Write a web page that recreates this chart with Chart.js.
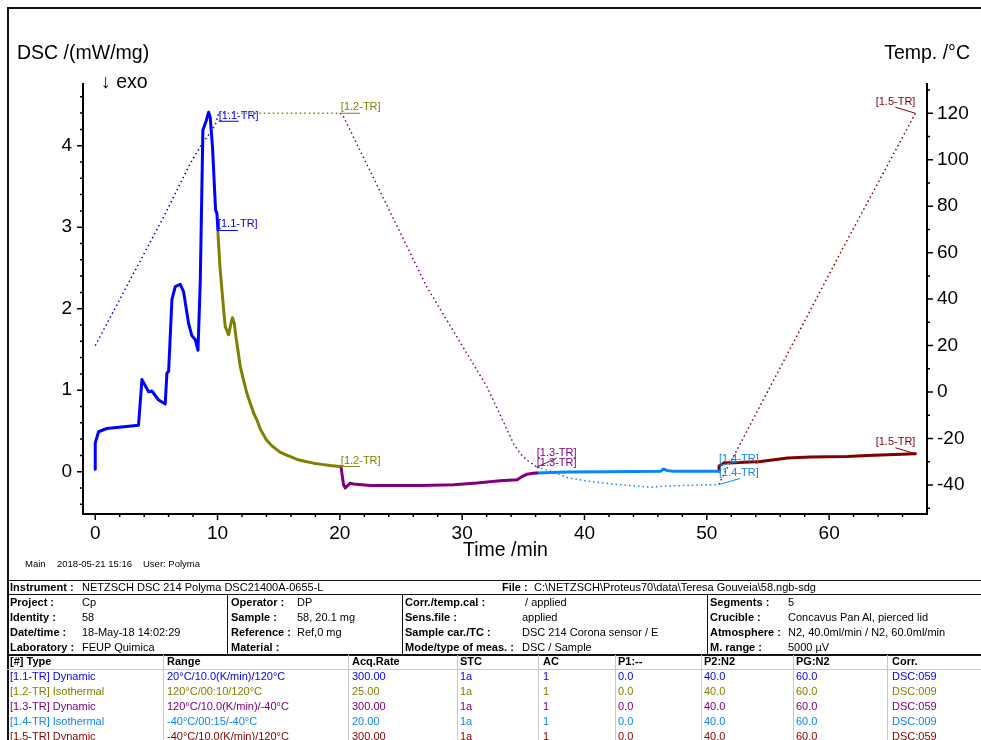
<!DOCTYPE html>
<html><head><meta charset="utf-8">
<script src="https://cdn.jsdelivr.net/npm/chart.js@4/dist/chart.umd.min.js"></script>
<style>
html,body{margin:0;padding:0;background:#fff;}
#page{position:relative;width:981px;height:740px;overflow:hidden;font-family:"Liberation Sans",Arial,sans-serif;color:#000;}
.t{position:absolute;white-space:pre;line-height:1;}
.ln{position:absolute;}
canvas{position:absolute;left:0;top:0;}
</style></head><body>
<div id="page">
<canvas id="c" width="981" height="575"></canvas>
</div>
<script>
// ---------- DATA ----------
const segNames = ["[1.1-TR]", "[1.2-TR]", "[1.3-TR]", "[1.4-TR]", "[1.5-TR]"];
const segColors = ["#0000ff", "#808000", "#800080", "#0a84ff", "#800000"];

// DSC signal /(mW/mg) vs time /min, one pair per segment
const seg1Time = [0, 0, 0.27, 0.95, 3.54, 3.82, 4.36, 4.63, 5.18, 5.72, 5.86, 6.0, 6.27, 6.54, 6.95, 7.22, 7.63, 7.9, 8.18, 8.4, 8.59, 8.8, 9.08, 9.27, 9.4, 9.59, 9.76, 9.84, 9.95, 10.03];
const seg1Dsc  = [0.03, 0.35, 0.49, 0.53, 0.57, 1.13, 0.98, 0.99, 0.88, 0.83, 1.21, 1.23, 2.11, 2.27, 2.30, 2.21, 1.82, 1.67, 1.62, 1.49, 2.35, 4.19, 4.31, 4.41, 4.35, 3.98, 3.45, 3.21, 3.17, 2.96];
const seg2Time = [10.03, 10.2, 10.5, 10.63, 10.9, 11.1, 11.22, 11.37, 11.5, 11.86, 12.13, 12.4, 12.95, 13.2, 13.5, 14.0, 14.5, 15.1, 15.7, 16.5, 17.2, 17.85, 18.5, 19.2, 20.0];
const seg2Dsc  = [2.93, 2.51, 1.98, 1.78, 1.68, 1.82, 1.89, 1.82, 1.66, 1.29, 1.12, 0.96, 0.72, 0.64, 0.52, 0.39, 0.31, 0.24, 0.20, 0.15, 0.125, 0.105, 0.09, 0.077, 0.065];
const seg3Time = [20.0, 20.1, 20.3, 20.44, 20.85, 21.1, 22.5, 23.85, 26.6, 29.3, 31.2, 33.1, 34.5, 34.9, 35.3, 35.8, 36.1];
const seg3Dsc  = [0.065, 0.05, -0.16, -0.20, -0.14, -0.15, -0.17, -0.17, -0.17, -0.16, -0.14, -0.11, -0.10, -0.06, -0.03, -0.02, -0.015];
const seg4Time = [36.1, 38.6, 42.0, 46.2, 46.47, 46.74, 47.3, 51.0];
const seg4Dsc  = [-0.015, -0.004, 0.0, 0.004, 0.033, 0.016, 0.004, 0.004];
const seg5Time = [51.0, 51.0, 51.4, 52.2, 54.4, 56.6, 58.5, 61.5, 63.1, 67.05];
const seg5Dsc  = [0.004, 0.07, 0.106, 0.11, 0.126, 0.168, 0.18, 0.188, 0.20, 0.22];

// Temperature /°C vs time /min, one pair per segment
const temp1Time = [0, 5.6, 7.77, 8.59, 9.5, 9.81, 10.1];
const temp1Val  = [20, 75.5, 98.4, 105.6, 112.5, 115, 120];
const temp2Time = [10.1, 20.0];
const temp2Val  = [120, 120];
const temp3Time = [20.0, 20.3, 27.1, 32.03, 34.2, 34.75, 35.3, 35.85, 36.1];
const temp3Val  = [120, 118.5, 45.3, 2.2, -22.2, -26.5, -29.4, -31.2, -32.3];
const temp4Time = [36.1, 37.5, 38.6, 40.2, 42.9, 45.4, 46.5, 51.0];
const temp4Val  = [-32.3, -34.5, -36.8, -38.3, -39.9, -41.0, -40.5, -39.8];
const temp5Time = [51.0, 51.2, 52.3, 60.9, 67.05];
const temp5Val  = [-39.8, -37.3, -26.6, 59.7, 120];

// Axis ticks
const xTickLabels = [0, 10, 20, 30, 40, 50, 60];
const xMinorTicks = [0,2,4,6,8,10,12,14,16,18,20,22,24,26,28,30,32,34,36,38,40,42,44,46,48,50,52,54,56,58,60,62,64,66];
const yLeftTickLabels = [0, 1, 2, 3, 4];
const yLeftMinorTicks = [-0.4,-0.2,0,0.2,0.4,0.6,0.8,1,1.2,1.4,1.6,1.8,2,2.2,2.4,2.6,2.8,3,3.2,3.4,3.6,3.8,4,4.2,4.4,4.6];
const yRightTickLabels = [-40, -20, 0, 20, 40, 60, 80, 100, 120];
const yRightMinorTicks = [-50,-40,-30,-20,-10,0,10,20,30,40,50,60,70,80,90,100,110,120,130];

// Table contents
const instrumentText = "NETZSCH DSC 214 Polyma DSC21400A-0655-L";
const fileText = "C:\\NETZSCH\\Proteus70\\data\\Teresa Gouveia\\58.ngb-sdg";
const infoRows = [
  ["Project :", "Cp", "Operator :", "DP", "Corr./temp.cal :", " / applied", "Segments :", "5"],
  ["Identity :", "58", "Sample :", "58, 20.1 mg", "Sens.file :", "applied", "Crucible :", "Concavus Pan Al, pierced lid"],
  ["Date/time :", "18-May-18 14:02:29", "Reference :", "Ref,0 mg", "Sample car./TC :", "DSC 214 Corona sensor / E", "Atmosphere :", "N2, 40.0ml/min / N2, 60.0ml/min"],
  ["Laboratory :", "FEUP Quimica", "Material :", "", "Mode/type of meas. :", "DSC / Sample", "M. range :", "5000 µV"]
];
const segHeader = ["[#] Type", "Range", "Acq.Rate", "STC", "AC", "P1:--", "P2:N2", "PG:N2", "Corr."];
const segRows = [
  ["[1.1-TR] Dynamic", "20°C/10.0(K/min)/120°C", "300.00", "1a", "1", "0.0", "40.0", "60.0", "DSC:059"],
  ["[1.2-TR] Isothermal", "120°C/00:10/120°C", "25.00", "1a", "1", "0.0", "40.0", "60.0", "DSC:009"],
  ["[1.3-TR] Dynamic", "120°C/10.0(K/min)/-40°C", "300.00", "1a", "1", "0.0", "40.0", "60.0", "DSC:059"],
  ["[1.4-TR] Isothermal", "-40°C/00:15/-40°C", "20.00", "1a", "1", "0.0", "40.0", "60.0", "DSC:009"],
  ["[1.5-TR] Dynamic", "-40°C/10.0(K/min)/120°C", "300.00", "1a", "1", "0.0", "40.0", "60.0", "DSC:059"]
];

// ---------- PAGE TEXT ----------
const page = document.getElementById('page');
const FONT = '"Liberation Sans", Arial, sans-serif';
function put(txt, x, base, size, o) {
  o = o || {};
  const d = document.createElement('div');
  d.className = 't'; d.textContent = txt;
  d.style.fontSize = size + 'px';
  d.style.top = (base - 0.8465 * size) + 'px';
  if (o.right != null) d.style.right = (981 - o.right) + 'px'; else d.style.left = x + 'px';
  if (o.bold) d.style.fontWeight = 'bold';
  if (o.color) d.style.color = o.color;
  page.appendChild(d);
}
function rect(x, y, w, h, c) {
  const d = document.createElement('div');
  d.className = 'ln';
  d.style.left = x + 'px'; d.style.top = y + 'px'; d.style.width = w + 'px'; d.style.height = h + 'px';
  d.style.background = c;
  page.appendChild(d);
}
// outer frame
rect(7, 7, 974, 1.5, '#111');
rect(7, 7, 1.5, 733, '#111');

put("DSC /(mW/mg)", 17, 60, 19.5);
put("↓ exo", 101, 89, 19.5);
put("Temp. /°C", 0, 60, 19.5, {right: 970});
put("Time /min", 463, 556.5, 19.5);
put("Main", 25, 567.5, 9.5);
put("2018-05-21 15:16", 57, 567.5, 9.5);
put("User: Polyma", 143, 567.5, 9.5);

// table lines
rect(7, 579.5, 974, 1.5, '#111');
rect(7, 593.5, 974, 1, '#111');
rect(7, 653.5, 974, 2, '#111');
rect(7, 669, 974, 1, '#c8c8c8');
[227, 402, 707].forEach(x => rect(x, 594, 1, 60, '#111'));
[163, 348, 457, 538, 615, 701, 793, 887].forEach(x => rect(x, 655, 1, 90, '#c8c8c8'));

put("Instrument :", 10, 591, 11, {bold: true});
put(instrumentText, 82, 591, 11);
put("File :", 502, 591, 11, {bold: true});
put(fileText, 534, 591, 11);
const infoLabelX = [10, 231, 405, 710];
const infoValueX = [82, 297, 522, 788];
const infoBase = [606, 621, 636, 651];
infoRows.forEach((r, i) => {
  for (let c = 0; c < 4; c++) {
    put(r[2 * c], infoLabelX[c], infoBase[i], 11, {bold: true});
    put(r[2 * c + 1], infoValueX[c], infoBase[i], 11);
  }
});
const segColX = [10, 167, 352, 460, 543, 618, 704, 796, 892];
segHeader.forEach((h, c) => put(h, segColX[c], 665.5, 11, {bold: true}));
const segBase = [680, 695, 710, 725, 740];
segRows.forEach((r, i) => r.forEach((v, c) => put(v, segColX[c], segBase[i], 11, {color: segColors[i]})));

// ---------- CHART ----------
const toXY = (xs, ys) => xs.map((x, i) => ({x: x, y: ys[i]}));
const dscSegs = [[seg1Time, seg1Dsc], [seg2Time, seg2Dsc], [seg3Time, seg3Dsc], [seg4Time, seg4Dsc], [seg5Time, seg5Dsc]];
const tempSegs = [[temp1Time, temp1Val], [temp2Time, temp2Val], [temp3Time, temp3Val], [temp4Time, temp4Val], [temp5Time, temp5Val]];

const datasets = [];
dscSegs.forEach((s, i) => datasets.push({
  label: segNames[i] + ' DSC', data: toXY(s[0], s[1]), yAxisID: 'y', showLine: true,
  borderColor: segColors[i], backgroundColor: segColors[i], borderWidth: 3, pointRadius: 0,
  tension: 0, borderJoinStyle: 'round', borderCapStyle: 'round', order: 1
}));
tempSegs.forEach((s, i) => datasets.push({
  label: segNames[i] + ' Temp', data: toXY(s[0], s[1]), yAxisID: 'y1', showLine: true,
  borderColor: segColors[i], backgroundColor: segColors[i], borderWidth: 1.5, borderDash: [1.5, 3],
  pointRadius: 0, tension: 0, order: 2
}));

// label annotations anchored on the ends of each segment
const annos = [
  {text: segNames[0], src: tempSegs[0], axis: 'y1', dx: 0, dy: 3, line: [0, 8, 20, 8], align: 'left', color: segColors[0]},
  {text: segNames[0], src: dscSegs[0], axis: 'y', dx: 0, dy: -6, line: [0, 0, 20, 0], align: 'left', color: segColors[0]},
  {text: segNames[1], src: tempSegs[1], axis: 'y1', dx: 1, dy: -6, line: [0, 0, 20, 0], align: 'left', color: segColors[1]},
  {text: segNames[1], src: dscSegs[1], axis: 'y', dx: 1, dy: -5, line: [0, 0, 20, 0], align: 'left', color: segColors[1]},
  {text: segNames[2], src: tempSegs[2], axis: 'y1', dx: 0, dy: -14, line: [0, 0, 20, -9], align: 'left', color: segColors[2]},
  {text: segNames[2], src: dscSegs[2], axis: 'y', dx: 0, dy: -10, line: null, align: 'left', color: segColors[2]},
  {text: segNames[3], src: dscSegs[3], axis: 'y', dx: 0, dy: -12, line: [0, -6, 21, -10], align: 'left', color: segColors[3]},
  {text: segNames[3], src: tempSegs[3], axis: 'y1', dx: 0, dy: -12, line: [0, 0, 21, -6], align: 'left', color: segColors[3]},
  {text: segNames[4], src: tempSegs[4], axis: 'y1', dx: 0, dy: -11, line: [0, 0, -20, -6], align: 'right', color: segColors[4]},
  {text: segNames[4], src: dscSegs[4], axis: 'y', dx: 0, dy: -12, line: [0, 0, -20, -6], align: 'right', color: segColors[4]}
];

const annoPlugin = {
  id: 'annoPlugin',
  afterDatasetsDraw(chart) {
    const ctx = chart.ctx;
    ctx.save();
    ctx.font = '11px ' + FONT;
    ctx.textBaseline = 'middle';
    annos.forEach(a => {
      const xs = a.src[0], ys = a.src[1];
      const ax = chart.scales.x.getPixelForValue(xs[xs.length - 1]);
      const ay = chart.scales[a.axis].getPixelForValue(ys[ys.length - 1]);
      ctx.fillStyle = a.color; ctx.strokeStyle = a.color; ctx.lineWidth = 1;
      ctx.textAlign = a.align;
      ctx.fillText(a.text, ax + a.dx, ay + a.dy);
      if (a.line) {
        ctx.beginPath();
        ctx.moveTo(ax + a.line[0], ay + a.line[1]);
        ctx.lineTo(ax + a.line[2], ay + a.line[3]);
        ctx.stroke();
      }
    });
    ctx.restore();
  }
};

const tickPlugin = {
  id: 'tickPlugin',
  afterDraw(chart) {
    const ctx = chart.ctx, a = chart.chartArea;
    const sx = chart.scales.x, sy = chart.scales.y, sr = chart.scales.y1;
    ctx.save();
    ctx.strokeStyle = '#000'; ctx.lineWidth = 1.5;
    ctx.beginPath();
    xMinorTicks.forEach(v => {
      const p = sx.getPixelForValue(v), L = xTickLabels.includes(v) ? 6 : 3;
      ctx.moveTo(p, a.bottom); ctx.lineTo(p, a.bottom + L);
    });
    yLeftMinorTicks.forEach(v => {
      const p = sy.getPixelForValue(v), L = yLeftTickLabels.some(t => Math.abs(t - v) < 1e-9) ? 6 : 3;
      ctx.moveTo(a.left, p); ctx.lineTo(a.left - L, p);
    });
    yRightMinorTicks.forEach(v => {
      const p = sr.getPixelForValue(v), L = yRightTickLabels.includes(v) ? 6 : 3;
      ctx.moveTo(a.right, p); ctx.lineTo(a.right + L, p);
    });
    ctx.stroke();
    ctx.restore();
  }
};

const tickFont = {family: FONT, size: 19};
const common = {
  grid: {display: false, drawTicks: false, drawOnChartArea: false},
  border: {display: true, color: '#000', width: 2}
};
new Chart(document.getElementById('c').getContext('2d'), {
  type: 'scatter',
  data: {datasets: datasets},
  options: {
    responsive: false, animation: false, events: [],
    layout: {padding: {top: 84, left: 0, right: 0, bottom: 0}},
    plugins: {legend: {display: false}, tooltip: {enabled: false}, title: {display: false}},
    scales: {
      x: Object.assign({}, common, {
        type: 'linear', position: 'bottom', min: -1, max: 68,
        afterBuildTicks: s => { s.ticks = xTickLabels.map(v => ({value: v})); },
        afterFit: s => { s.height = 61; },
        ticks: {font: tickFont, color: '#000', padding: 8, maxRotation: 0, autoSkip: false, callback: v => String(v)}
      }),
      y: Object.assign({}, common, {
        type: 'linear', position: 'left', min: -0.519, max: 4.757,
        afterBuildTicks: s => { s.ticks = yLeftTickLabels.map(v => ({value: v})); },
        afterFit: s => { s.width = 83; },
        ticks: {font: tickFont, color: '#000', padding: 11, autoSkip: false, callback: v => String(v)}
      }),
      y1: Object.assign({}, common, {
        type: 'linear', position: 'right', min: -52.5, max: 132.6,
        afterBuildTicks: s => { s.ticks = yRightTickLabels.map(v => ({value: v})); },
        afterFit: s => { s.width = 54; },
        ticks: {font: tickFont, color: '#000', padding: 10, autoSkip: false, callback: v => String(v)}
      })
    }
  },
  plugins: [annoPlugin, tickPlugin]
});
</script>
</body></html>
